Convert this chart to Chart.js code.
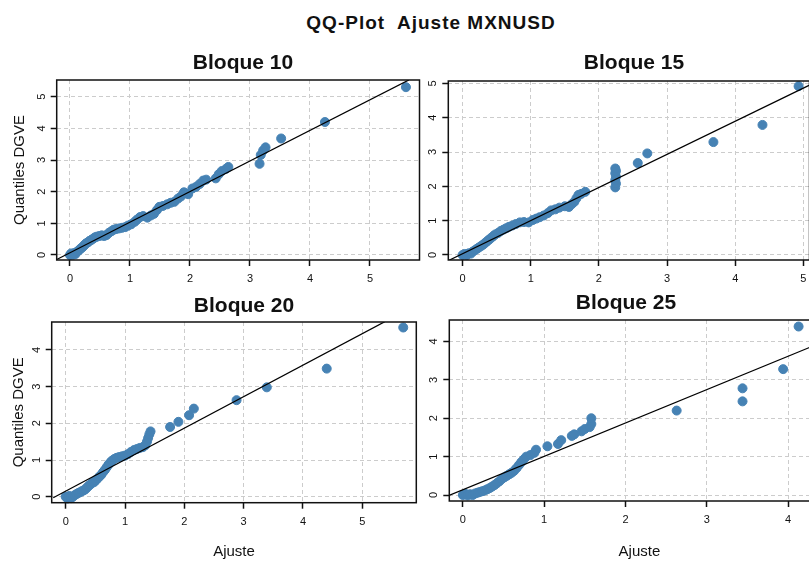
<!DOCTYPE html>
<html>
<head>
<meta charset="utf-8">
<script src="https://cdn.jsdelivr.net/npm/chart.js@4.4.1/dist/chart.umd.min.js"></script>
<style>
	body { margin: 0; background: #fff; overflow: hidden; }
	#page { position: relative; width: 809px; height: 561px; overflow: hidden; font-family: "Liberation Sans", Arial, sans-serif; color: #111; }
	#title { position: absolute; left: 0; top: 12.9px; width: 862px; text-align: center; font-weight: bold; font-size: 19px; line-height: 20px; letter-spacing: 1px; }
	.panel-title { position: absolute; width: 300px; text-align: center; font-weight: bold; font-size: 21px; line-height: 24px; }
	canvas { position: absolute; }
</style>
</head>
<body>
<div id="page">
	<div id="title">QQ-Plot&nbsp; Ajuste MXNUSD</div>
	<canvas id="b10"></canvas>
	<canvas id="b15"></canvas>
	<canvas id="b20"></canvas>
	<canvas id="b25"></canvas>
	<div class="panel-title" style="left:93px; top:50.4px;">Bloque 10</div>
	<div class="panel-title" style="left:484px; top:49.7px;">Bloque 15</div>
	<div class="panel-title" style="left:94px; top:293.2px;">Bloque 20</div>
	<div class="panel-title" style="left:476px; top:290.2px;">Bloque 25</div>
</div>
<script>
// Bloque 10
const ajuste10 = [0.00,0.02,0.05,0.07,0.09,0.11,0.13,0.15,0.17,0.19,0.21,0.23,0.25,0.27,0.30,0.33,0.36,0.39,0.42,0.45,0.49,0.53,0.57,0.61,0.65,0.69,0.73,0.77,0.82,0.87,0.92,0.97,1.02,1.08,1.12,1.17,1.22,1.29,1.35,1.40,1.45,1.49,1.55,1.62,1.68,1.74,1.80,1.85,1.90,1.97,2.04,2.10,2.16,2.22,2.27,2.43,2.48,2.53,2.60,2.64,3.16,3.18,3.22,3.26,3.52,4.25,5.60];
const dgve10 = [0.00,0.05,0.01,0.06,0.03,0.09,0.12,0.15,0.19,0.22,0.25,0.29,0.33,0.37,0.40,0.45,0.48,0.52,0.56,0.58,0.60,0.62,0.60,0.63,0.70,0.75,0.80,0.82,0.84,0.86,0.88,0.93,0.97,1.05,1.12,1.20,1.23,1.18,1.25,1.30,1.42,1.52,1.55,1.60,1.65,1.68,1.78,1.85,1.98,1.92,2.10,2.15,2.24,2.35,2.38,2.42,2.55,2.65,2.72,2.78,2.88,3.16,3.30,3.40,3.68,4.20,5.30];
const lineaX10 = [-0.22, 5.65];
const lineaY10 = [-0.14, 5.53];
const ticksX10 = [0, 1, 2, 3, 4, 5];
const ticksY10 = [0, 1, 2, 3, 4, 5];

// Bloque 15
const ajuste15 = [0.00,0.03,0.06,0.09,0.12,0.15,0.18,0.21,0.24,0.27,0.30,0.33,0.36,0.39,0.42,0.45,0.48,0.52,0.56,0.60,0.64,0.68,0.73,0.78,0.84,0.90,0.97,1.03,1.08,1.13,1.19,1.25,1.30,1.36,1.42,1.50,1.56,1.60,1.64,1.67,1.70,1.74,1.80,2.24,2.25,2.24,2.25,2.24,2.25,2.24,2.57,2.71,3.68,4.40,4.93];
const dgve15 = [0.00,0.03,0.00,0.05,0.04,0.10,0.14,0.18,0.22,0.26,0.30,0.35,0.40,0.45,0.50,0.55,0.60,0.64,0.70,0.74,0.78,0.82,0.86,0.90,0.95,0.96,0.95,1.02,1.06,1.10,1.15,1.22,1.30,1.33,1.38,1.42,1.40,1.48,1.55,1.65,1.75,1.78,1.84,1.97,2.08,2.18,2.28,2.38,2.45,2.52,2.68,2.96,3.29,3.79,4.92];
const lineaX15 = [-0.21, 5.09];
const lineaY15 = [-0.165, 4.95];
const ticksX15 = [0, 1, 2, 3, 4, 5];
const ticksY15 = [0, 1, 2, 3, 4, 5];

// Bloque 20
const ajuste20 = [0.00,0.03,0.06,0.09,0.12,0.15,0.18,0.21,0.24,0.27,0.30,0.33,0.36,0.39,0.42,0.45,0.48,0.51,0.54,0.57,0.60,0.63,0.66,0.69,0.72,0.75,0.78,0.82,0.86,0.90,0.95,1.00,1.05,1.10,1.15,1.20,1.25,1.30,1.34,1.37,1.39,1.41,1.43,1.76,1.90,2.08,2.16,2.88,3.39,4.40,5.69];
const dgve20 = [0.00,-0.05,0.02,-0.04,0.00,0.04,0.07,0.10,0.12,0.15,0.17,0.20,0.25,0.30,0.34,0.38,0.40,0.45,0.50,0.55,0.60,0.67,0.73,0.80,0.87,0.93,0.98,1.03,1.06,1.08,1.10,1.12,1.16,1.22,1.27,1.30,1.33,1.35,1.40,1.50,1.60,1.70,1.78,1.90,2.04,2.22,2.40,2.63,2.98,3.49,4.61];
const lineaX20 = [-0.21, 5.38];
const lineaY20 = [-0.03, 4.77];
const ticksX20 = [0, 1, 2, 3, 4, 5];
const ticksY20 = [0, 1, 2, 3, 4];

// Bloque 25
const ajuste25 = [0.00,0.03,0.06,0.09,0.12,0.15,0.18,0.21,0.24,0.27,0.30,0.33,0.36,0.39,0.42,0.45,0.48,0.51,0.54,0.57,0.60,0.63,0.66,0.69,0.72,0.75,0.78,0.83,0.88,0.90,1.04,1.17,1.21,1.34,1.37,1.46,1.50,1.56,1.58,1.58,2.63,3.44,3.44,3.94,4.13];
const dgve25 = [0.00,0.03,-0.01,0.02,0.00,0.04,0.06,0.08,0.10,0.12,0.15,0.18,0.22,0.26,0.31,0.36,0.42,0.46,0.50,0.54,0.58,0.63,0.70,0.78,0.86,0.93,1.00,1.04,1.10,1.18,1.27,1.33,1.43,1.54,1.58,1.66,1.72,1.77,1.85,2.00,2.20,2.78,2.44,3.28,4.39];
const lineaX25 = [-0.17, 4.51];
const lineaY25 = [-0.01, 4.06];
const ticksX25 = [0, 1, 2, 3, 4];
const ticksY25 = [0, 1, 2, 3, 4];

const FONT = '"Liberation Sans", Arial, sans-serif';
const STEEL = "#4682b4";

Chart.defaults.font.family = FONT;
Chart.defaults.color = "#111";

// box around the plot region + rotated y tick labels (S-Plus style)
const frame = {
	id: "frame",
	afterDraw(chart){
		const ctx = chart.ctx;
		const area = chart.chartArea;
		const y = chart.scales.y;

		ctx.save();
		ctx.strokeStyle = "#111";
		ctx.lineWidth = 1.5;
		ctx.strokeRect(area.left, area.top, area.right - area.left, area.bottom - area.top);

		ctx.font = "11px " + FONT;
		ctx.fillStyle = "#111";
		ctx.textAlign = "center";
		ctx.textBaseline = "middle";
		y.ticks.forEach((t) => {
			ctx.save();
			ctx.translate(area.left - 15, y.getPixelForValue(t.value));
			ctx.rotate(-Math.PI / 2);
			ctx.fillText(String(t.value), 0, 0);
			ctx.restore();
		});
		ctx.restore();
	}
};

// canvas: [left, top, width, height] on the page; area: [left, top, right, bottom] on the page
const panels = [
	{id: "b10", x: ajuste10, y: dgve10, lx: lineaX10, ly: lineaY10, xt: ticksX10, yt: ticksY10,
		xmin: -0.221, xmax: 5.826, ymin: -0.158, ymax: 5.527,
		canvas: [0, 40, 425, 250], area: [56.7, 80, 420.7, 260], yTitle: 19.5, xTitle: null},
	{id: "b15", x: ajuste15, y: dgve15, lx: lineaX15, ly: lineaY15, xt: ticksX15, yt: ticksY15,
		xmin: -0.21, xmax: 5.09, ymin: -0.146, ymax: 5.07,
		canvas: [425, 40, 390, 250], area: [448.3, 81, 812, 260], yTitle: null, xTitle: null},
	{id: "b20", x: ajuste20, y: dgve20, lx: lineaX20, ly: lineaY20, xt: ticksX20, yt: ticksY20,
		xmin: -0.236, xmax: 5.91, ymin: -0.163, ymax: 4.76,
		canvas: [0, 280, 425, 281], area: [51.7, 322, 416.3, 502.7], yTitle: 18.5, xTitle: 552},
	{id: "b25", x: ajuste25, y: dgve25, lx: lineaX25, ly: lineaY25, xt: ticksX25, yt: ticksY25,
		xmin: -0.167, xmax: 4.51, ymin: -0.156, ymax: 4.56,
		canvas: [425, 280, 410, 281], area: [449.3, 320, 832, 501], yTitle: null, xTitle: 552},
];

function gridOpts(){
	return {
		color: "#cccccc",
		lineWidth: 1,
		tickLength: 6,
		tickColor: "#111",
		tickWidth: 1.5,
	};
}

function makePanel(p){
	const canvas = document.getElementById(p.id);
	const [cl, ct, cw, ch] = p.canvas;
	canvas.width = cw;
	canvas.height = ch;
	canvas.style.left = cl + "px";
	canvas.style.top = ct + "px";

	// plot region in canvas coordinates
	const left = p.area[0] - cl;
	const top = p.area[1] - ct;
	const right = p.area[2] - cl;
	const bottom = p.area[3] - ct;

	const puntos = p.x.map((v, i) => ({x: v, y: p.y[i]}));
	const linea = p.lx.map((v, i) => ({x: v, y: p.ly[i]}));

	return new Chart(canvas, {
		type: "scatter",
		data: {
			datasets: [
				{
					data: linea,
					showLine: true,
					borderColor: "#000",
					borderWidth: 1.2,
					pointRadius: 0,
					order: 0,
				},
				{
					data: puntos,
					backgroundColor: STEEL,
					borderColor: STEEL,
					borderWidth: 1,
					pointRadius: 4.5,
					clip: false,
					order: 1,
				},
			]
		},
		options: {
			responsive: false,
			animation: false,
			events: [],
			layout: {
				padding: {left: 0, top: top, right: cw - right, bottom: 0}
			},
			plugins: {
				legend: {display: false},
				tooltip: {enabled: false},
			},
			scales: {
				x: {
					type: "linear",
					min: p.xmin,
					max: p.xmax,
					afterBuildTicks: (s) => { s.ticks = p.xt.map((v) => ({value: v})); },
					afterFit: (s) => { s.height = ch - bottom; },
					grid: gridOpts(),
					border: {display: false, dash: [4, 3]},
					ticks: {font: {size: 11}, padding: 6.4, maxRotation: 0, color: "#111"},
					title: {
						display: p.xTitle !== null,
						text: "Ajuste",
						font: {size: 15},
						color: "#111",
						padding: {top: 0, bottom: p.xTitle !== null ? ch - (p.xTitle - ct) - 9 : 0},
					},
				},
				y: {
					type: "linear",
					min: p.ymin,
					max: p.ymax,
					afterBuildTicks: (s) => { s.ticks = p.yt.map((v) => ({value: v})); },
					afterFit: (s) => { s.width = left; },
					grid: gridOpts(),
					border: {display: false, dash: [4, 3]},
					ticks: {display: false},
					title: {
						display: p.yTitle !== null,
						text: "Quantiles DGVE",
						font: {size: 15},
						color: "#111",
						padding: {top: p.yTitle !== null ? p.yTitle - 9 : 0, bottom: 0},
					},
				},
			},
		},
		plugins: [frame],
	});
}

panels.forEach(makePanel);
</script>
</body>
</html>
